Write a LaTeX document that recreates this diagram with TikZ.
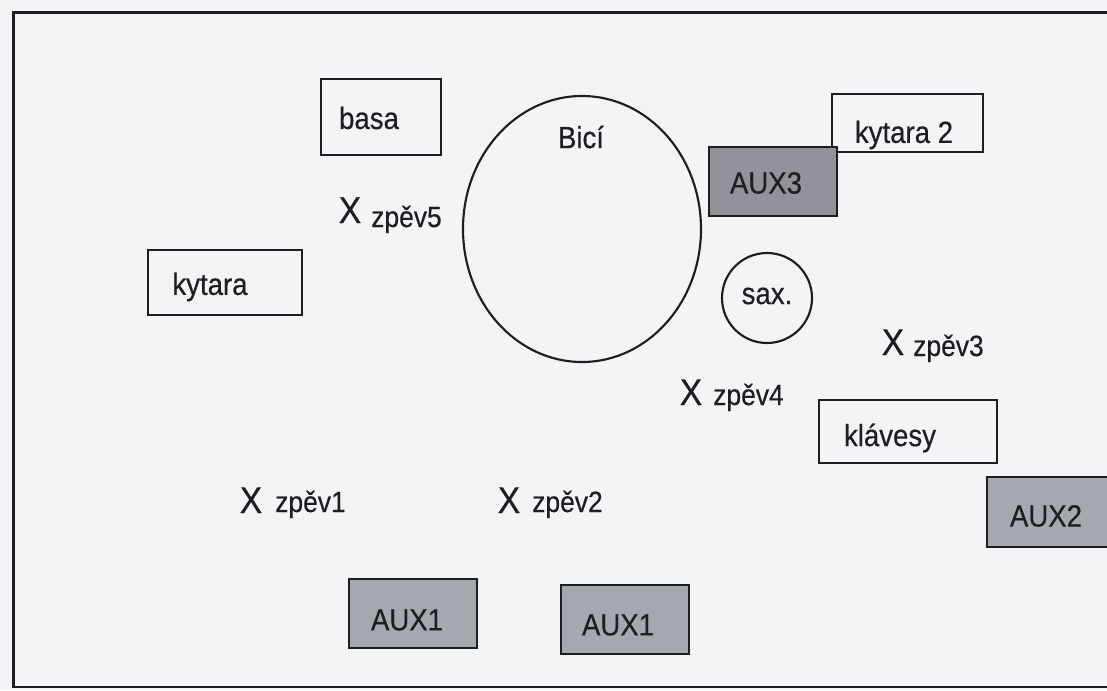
\documentclass[tikz,border=0pt]{standalone}
\usepackage{fontspec}
\setmainfont[FakeStretch=0.9,FakeBold=0.4]{Liberation Sans}
\definecolor{paper}{RGB}{243,244,246}
\definecolor{ink}{RGB}{30,30,34}
\definecolor{auxgray}{RGB}{166,168,176}
\definecolor{auxdark}{RGB}{146,147,154}

\begin{document}
\begin{tikzpicture}[x=0.75pt,y=-0.75pt,
    frame/.style={draw=ink,line width=1.6pt},
    box/.style={draw=ink,line width=1.8pt},
    lbl/.style={text=ink,inner sep=0pt,font=\fontsize{23}{27}\selectfont},
    xmark/.style={text=ink,inner sep=0pt,anchor=base,font=\fontsize{28}{32}\selectfont},
    zpev/.style={text=ink,inner sep=0pt,anchor=base west,font=\fontsize{22}{26}\selectfont}]
    %Papir
        \fill[paper] (0,0) rectangle (1107,690);
        \useasboundingbox (0,0) rectangle (1107,690);

    %Podium
        \draw[frame] (1110,12.5)--(13.5,12.5)--(13.5,687)--(1110,687);

    %Nastroje
        \draw[box] (321,79) rectangle (441,155);
        \node[lbl] (basa) at (369,118) {basa};

        \draw[box,line width=1.6pt] (582,229) ellipse (119 and 133);
        \node[lbl] (bici) at (581,137) {Bicí};

        \draw[box] (832,94) rectangle (983,152);
        \node[lbl] (kytara2) at (904,135) {kytara 2};

        \draw[box] (148,250) rectangle (302,315);
        \node[lbl] (kytara) at (210,287) {kytara};

        \draw[box,line width=1.6pt] (767,298) circle (45);
        \node[lbl] (sax) at (767,296) {sax.};

        \draw[box] (819,400) rectangle (997,463);
        \node[lbl] (klavesy) at (890,438) {klávesy};

    %AUX
        \filldraw[box,fill=auxdark] (709,147) rectangle (837,216);
        \node[lbl] (aux3) at (766,183) {AUX3};

        \filldraw[box,fill=auxgray] (987,477) rectangle (1115,547);
        \node[lbl] (aux2) at (1046,516) {AUX2};

        \filldraw[box,fill=auxgray] (349,579) rectangle (477,648);
        \node[lbl] (aux1a) at (407,620) {AUX1};

        \filldraw[box,fill=auxgray] (561,585) rectangle (689,654);
        \node[lbl] (aux1b) at (618,625) {AUX1};

    %Zpev
        \node[xmark] (x5) at (350,223) {X};
        \node[zpev] (z5) at (371,227) {zpěv5};

        \node[xmark] (x3) at (893,355) {X};
        \node[zpev] (z3) at (913,356) {zpěv3};

        \node[xmark] (x4) at (691,405) {X};
        \node[zpev] (z4) at (713,405) {zpěv4};

        \node[xmark] (x1) at (251,513) {X};
        \node[zpev] (z1) at (275,512) {zpěv1};

        \node[xmark] (x2) at (509,513) {X};
        \node[zpev] (z2) at (532,512) {zpěv2};

\end{tikzpicture}
\end{document}
